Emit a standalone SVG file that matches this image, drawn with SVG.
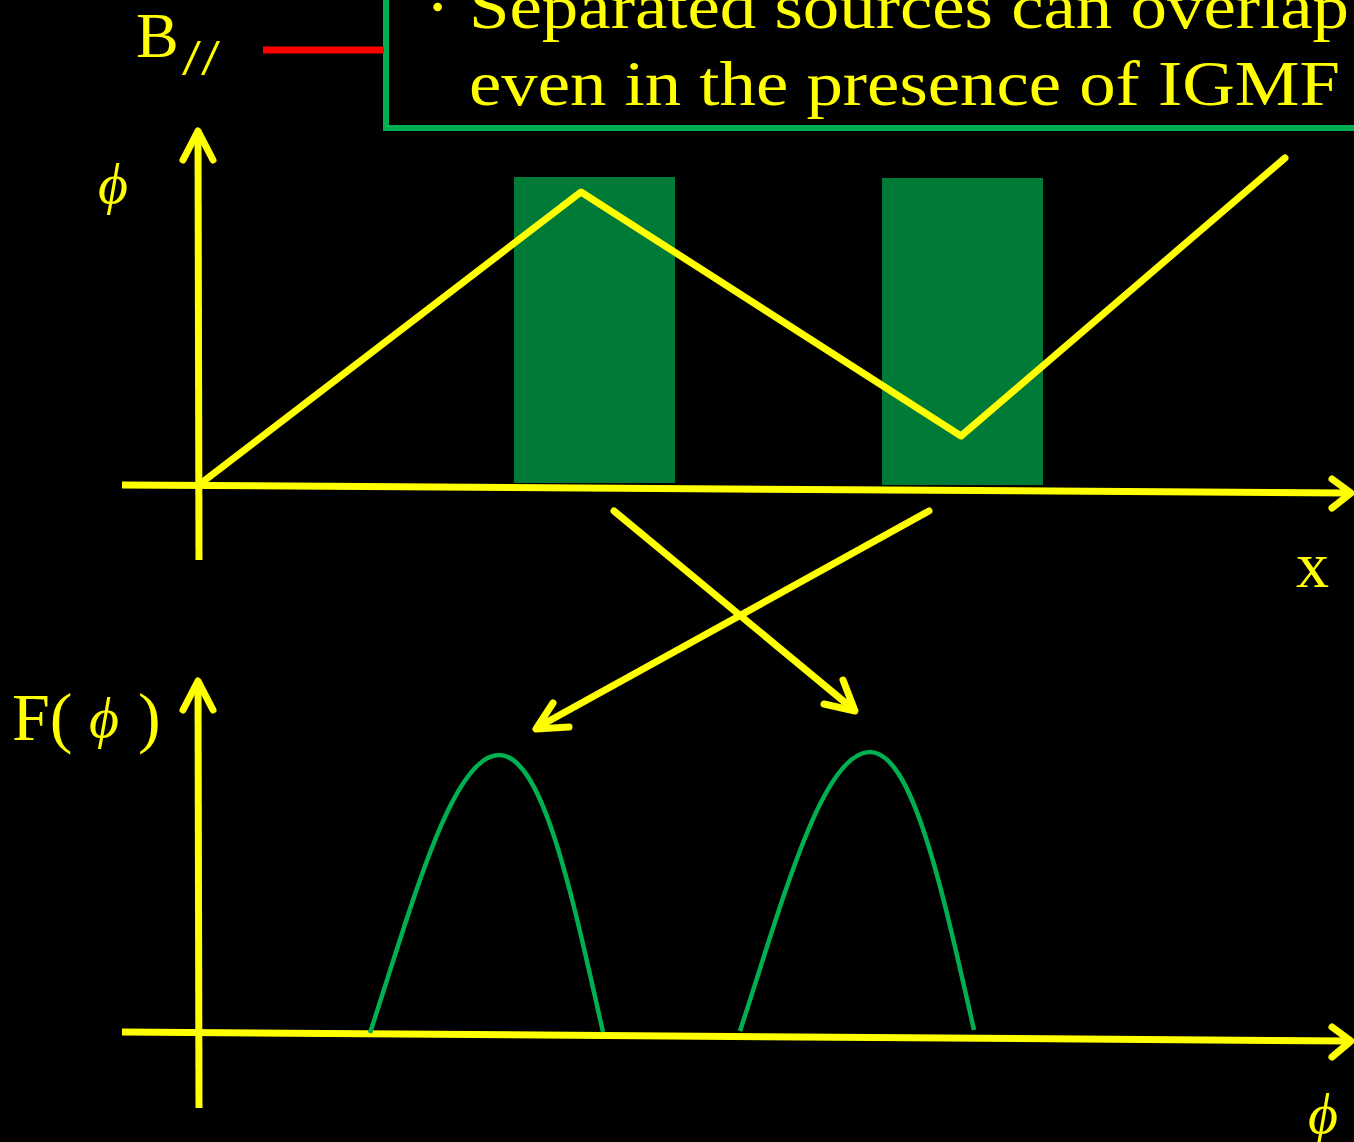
<svg xmlns="http://www.w3.org/2000/svg" width="1354" height="1142" viewBox="0 0 1354 1142">
<style>
.y{stroke:#FFFF00;stroke-width:7;fill:none;stroke-linecap:round;stroke-linejoin:round}
.ax{stroke:#FFFF00;stroke-width:7;fill:none;stroke-linecap:butt}
.cur{stroke:#00B050;stroke-width:4.5;fill:none}
.t{font-family:"Liberation Serif","Times New Roman",serif;fill:#FFFF00}
.gr{font-family:"Liberation Serif","DejaVu Serif",serif;font-style:italic;fill:#FFFF00}
</style>
<rect width="1354" height="1142" fill="#000"/>
<g id="bars">
<rect x="514" y="177" width="161" height="306" fill="#007A37"/>
<rect x="882" y="178" width="161" height="307" fill="#007A37"/>
</g>
<g id="note">
<rect x="386" y="-20" width="990" height="148" fill="#000" stroke="#00B050" stroke-width="6"/>
<text class="t" x="410" y="26" font-size="54" font-family="'Noto Sans CJK JP',sans-serif">・</text>
<text class="t" x="469" y="28" font-size="64" textLength="880" lengthAdjust="spacingAndGlyphs">Separated sources can overlap</text>
<text class="t" x="469" y="105" font-size="64" textLength="871" lengthAdjust="spacingAndGlyphs">even in the presence of IGMF</text>
</g>
<g id="bpar">
<text class="t" x="136" y="57" font-size="64">B</text>
<text class="t" x="182" y="74" font-size="50" textLength="38" lengthAdjust="spacingAndGlyphs">//</text>
<line x1="263" y1="50" x2="384" y2="50" stroke="#FF0000" stroke-width="7"/>
</g>
<g id="top-axes">
<line class="ax" x1="199" y1="560" x2="198" y2="133"/>
<polyline class="y" points="183,160 198,131 213,160"/>
<line class="ax" x1="122" y1="485" x2="1349" y2="493"/>
<polyline class="y" points="1332,479 1351,493 1332,508"/>
<text class="gr" x="98" y="203" font-size="58">ϕ</text>
<text class="t" x="1296" y="587" font-size="66">x</text>
</g>
<g id="zigzag">
<polyline class="y" stroke-linecap="butt" points="200,484 581,192 961,436 1285,158"/>
</g>
<g id="connectors">
<line class="y" x1="614" y1="511" x2="853" y2="709"/>
<polyline class="y" points="824,704 855,711 843,680"/>
<line class="y" x1="929" y1="511" x2="538" y2="727"/>
<polyline class="y" points="553,703 536,729 569,727"/>
</g>
<g id="bottom-axes">
<line class="ax" x1="199" y1="1108" x2="198" y2="683"/>
<polyline class="y" points="183,710 198,681 213,710"/>
<line class="ax" x1="122" y1="1032" x2="1349" y2="1041"/>
<polyline class="y" points="1332,1027 1351,1041 1332,1057"/>
<text class="t" x="12" y="740" font-size="68">F(</text>
<text class="gr" x="89" y="737" font-size="58">ϕ</text>
<text class="t" x="138" y="740" font-size="68">)</text>
<text class="gr" x="1308" y="1133" font-size="58">ϕ</text>
</g>
<g id="curves">
<path class="cur" d="M370,1033 C412,905 452,755 499,755 C543,755 572,895 603,1032"/>
<path class="cur" d="M740,1031 C782,903 822,752 870,752 C913,752 943,893 974,1030"/>
</g>
</svg>
